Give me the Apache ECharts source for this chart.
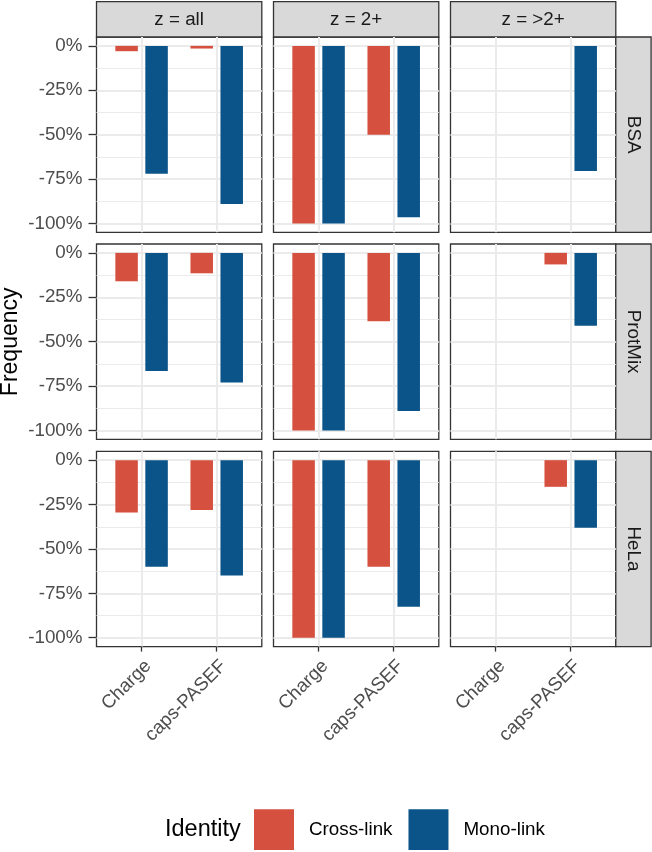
<!DOCTYPE html>
<html>
<head>
<meta charset="utf-8">
<script src="https://cdn.jsdelivr.net/npm/echarts@6/dist/echarts.min.js"></script>
<style>html,body{margin:0;padding:0;background:#fff;}#c{width:652px;height:852px;}</style>
</head>
<body>
<div id="c"></div>
<script>
// ---- data ----
const categories = ['Charge', 'caps-PASEF'];
const colFacets = ['z = all', 'z = 2+', 'z = >2+'];
const rowFacets = ['BSA', 'ProtMix', 'HeLa'];
const identities = ['Cross-link', 'Mono-link'];
const yTicks = [0, -25, -50, -75, -100];
const yMinor = [-12.5, -37.5, -62.5, -87.5];
// values per column facet (z = all, z = 2+, z = >2+), per category (Charge, caps-PASEF)
const bsaCross = [[-3, -1.5], [-100, -50], [null, null]];
const bsaMono = [[-72, -89], [-100, -96.5], [null, -70.5]];
const protMixCross = [[-16, -11.5], [-100, -38.5], [null, -6.5]];
const protMixMono = [[-66.5, -73], [-100, -89], [null, -41]];
const helaCross = [[-29.5, -28], [-100, -60], [null, -15]];
const helaMono = [[-60, -65], [-100, -82.5], [null, -38]];

const crossByRow = [bsaCross, protMixCross, helaCross];
const monoByRow = [bsaMono, protMixMono, helaMono];

// ---- layout / style ----
const FONT = '"Liberation Sans", Arial, sans-serif';
const colors = ['#D5503E', '#0B5489'];
const colLeft = [96.5, 273.5, 450.5];
const panelW = 165.3;
const rowTop = [37, 244, 451.3];
const panelH = 195.3;
const stripTop = 1.7;
const stripH = 35.3;
const gridColor = '#EBEBEB';
const darkLine = '#333333';
const baseFs = 18.8;

const chart = echarts.init(document.getElementById('c'), null, {renderer: 'canvas'});

const grids = [], xAxes = [], yAxes = [], series = [];
for (let r = 0; r < 3; r++) {
  for (let c = 0; c < 3; c++) {
    const idx = r * 3 + c;
    grids.push({
      left: colLeft[c], top: rowTop[r], width: panelW, height: panelH,
      show: true, borderColor: darkLine, borderWidth: 1.3, backgroundColor: '#fff'
    });
    xAxes.push({
      gridIndex: idx, type: 'value', min: 0.4, max: 2.6, position: 'bottom',
      axisLine: {show: false, onZero: false},
      axisTick: {show: r === 2, customValues: [1, 2], length: 5, lineStyle: {color: darkLine, width: 1.3}},
      axisLabel: {
        show: r === 2, customValues: [1, 2], rotate: 45, margin: 10,
        align: 'right', verticalAlign: 'top',
        color: '#4D4D4D', fontSize: baseFs, fontFamily: FONT,
        formatter: v => categories[Math.round(v) - 1]
      },
      splitLine: {show: true, lineStyle: {color: gridColor, width: 2}}
    });
    yAxes.push({
      gridIndex: idx, type: 'value', min: -105, max: 5, position: 'left',
      axisLine: {show: false, onZero: false},
      axisTick: {show: c === 0, customValues: yTicks, length: 8, lineStyle: {color: darkLine, width: 1.3}},
      axisLabel: {
        show: c === 0, customValues: yTicks, margin: 14,
        color: '#4D4D4D', fontSize: baseFs, fontFamily: FONT,
        formatter: v => v + '%'
      },
      splitLine: {show: true, lineStyle: {color: gridColor, width: 2}}
    });
    yAxes.push({
      gridIndex: idx, type: 'value', min: -105, max: 5, position: 'right',
      axisLine: {show: false, onZero: false},
      axisTick: {show: false, customValues: yMinor},
      axisLabel: {show: false, customValues: yMinor},
      splitLine: {show: true, lineStyle: {color: gridColor, width: 1}}
    });
    const sets = [crossByRow[r][c], monoByRow[r][c]];
    sets.forEach((vals, s) => {
      const data = [];
      vals.forEach((v, i) => { if (v !== null) data.push([i + 1, v]); });
      series.push({
        type: 'bar', name: identities[s], xAxisIndex: idx, yAxisIndex: idx * 2,
        data: data, barWidth: 22.5, barGap: '33.3%',
        itemStyle: {color: colors[s]}, silent: true, animation: false
      });
    });
  }
}

const graphics = [];
colFacets.forEach((t, c) => {
  graphics.push({type: 'rect', shape: {x: colLeft[c], y: stripTop, width: panelW, height: stripH},
    style: {fill: '#D9D9D9', stroke: darkLine, lineWidth: 1.3}});
  graphics.push({type: 'text', x: colLeft[c] + panelW / 2, y: stripTop + stripH / 2,
    style: {text: t, align: 'center', verticalAlign: 'middle', font: baseFs + 'px ' + FONT, fill: '#1A1A1A'}});
});
const rightStripX = colLeft[2] + panelW;
rowFacets.forEach((t, r) => {
  graphics.push({type: 'rect', shape: {x: rightStripX, y: rowTop[r], width: stripH, height: panelH},
    style: {fill: '#D9D9D9', stroke: darkLine, lineWidth: 1.3}});
  graphics.push({type: 'text', x: rightStripX + stripH / 2, y: rowTop[r] + panelH / 2, rotation: -Math.PI / 2,
    style: {text: t, align: 'center', verticalAlign: 'middle', font: baseFs + 'px ' + FONT, fill: '#1A1A1A'}});
});
graphics.push({type: 'text', x: 11, y: (rowTop[0] + rowTop[2] + panelH) / 2, rotation: Math.PI / 2,
  style: {text: 'Frequency', align: 'center', verticalAlign: 'middle', font: '23px ' + FONT, fill: '#000'}});
graphics.push({type: 'text', x: 165, y: 830,
  style: {text: 'Identity', align: 'left', verticalAlign: 'middle', font: '23.5px ' + FONT, fill: '#000'}});

chart.setOption({
  animation: false,
  backgroundColor: '#fff',
  grid: grids, xAxis: xAxes, yAxis: yAxes, series: series,
  legend: {
    left: 249, top: 804.3, itemWidth: 40, itemHeight: 40.7, itemGap: 16, icon: 'rect',
    selectedMode: false, data: identities,
    textStyle: {fontSize: baseFs, color: '#000', fontFamily: FONT, padding: [0, 0, 0, 10]}
  },
  graphic: graphics
});
</script>
</body>
</html>
